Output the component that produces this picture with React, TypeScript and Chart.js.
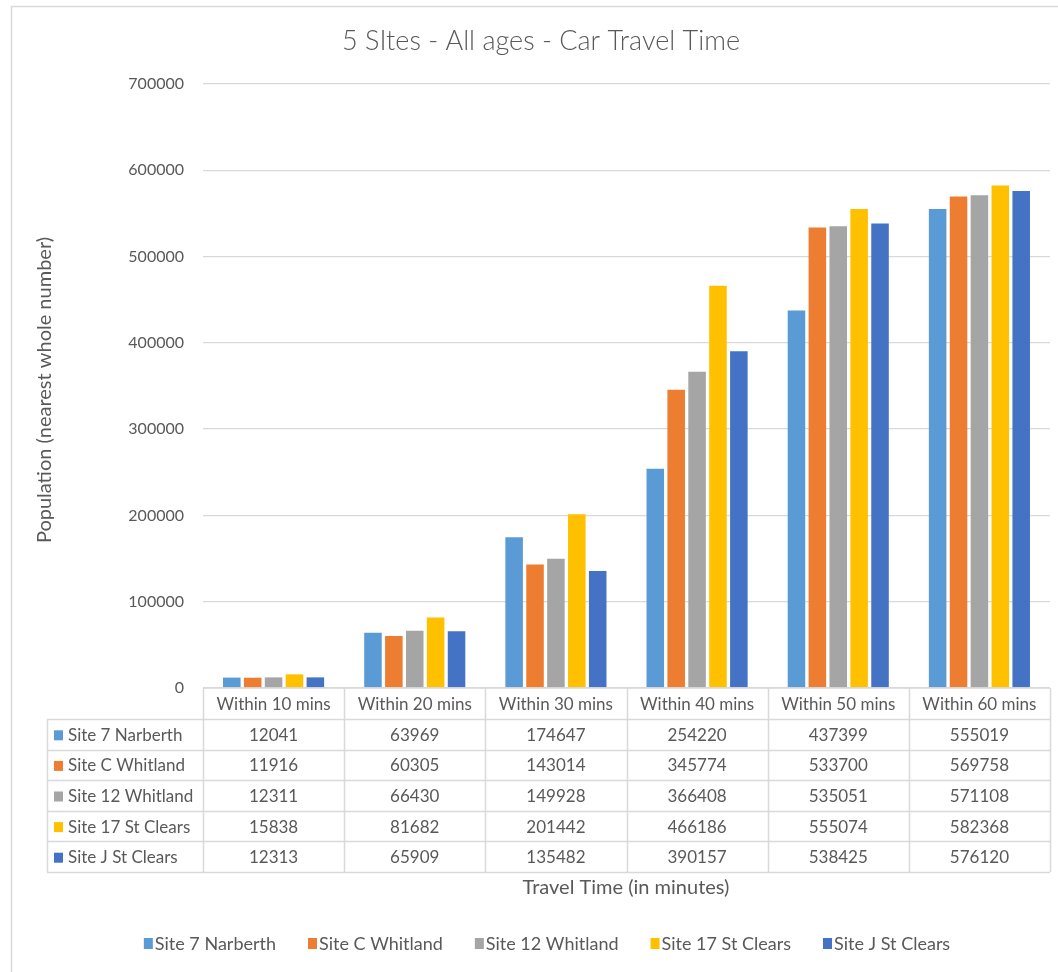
import React, { useEffect, useRef } from "react";
import { Chart, registerables } from "chart.js";

Chart.register(...registerables);

const categories = ["Within 10 mins", "Within 20 mins", "Within 30 mins", "Within 40 mins", "Within 50 mins", "Within 60 mins"];
const seriesNames = ["Site 7 Narberth", "Site C Whitland", "Site 12 Whitland", "Site 17 St Clears", "Site J St Clears"];
const site7Narberth = [12041, 63969, 174647, 254220, 437399, 555019];
const siteCWhitland = [11916, 60305, 143014, 345774, 533700, 569758];
const site12Whitland = [12311, 66430, 149928, 366408, 535051, 571108];
const site17StClears = [15838, 81682, 201442, 466186, 555074, 582368];
const siteJStClears = [12313, 65909, 135482, 390157, 538425, 576120];
const seriesColors = ["#5B9BD5", "#ED7D31", "#A5A5A5", "#FFC000", "#4472C4"];
const yTickMax = 700000;
const yTickStep = 100000;
const titleText = "5 SItes - All ages - Car Travel Time";
const yAxisTitle = "Population (nearest whole number)";
const xAxisTitle = "Travel Time (in minutes)";

const FONT = "Lato, 'Open Sans', sans-serif";
const TEXT = "#595959";
const LINE = "#d9d9d9";

const decorPlugin = {
  id: "excelDecor",
  afterDraw(chart: any) {
    const ctx = chart.ctx as CanvasRenderingContext2D;
    const area = chart.chartArea;
    const xs = chart.scales.x;
    const n = categories.length;
    const colW = (area.right - area.left) / n;
    ctx.save();

    // outer border
    ctx.strokeStyle = LINE;
    ctx.lineWidth = 1.5;
    ctx.beginPath();
    ctx.moveTo(11.5, chart.height + 5);
    ctx.lineTo(11.5, 6.5);
    ctx.lineTo(chart.width + 5, 6.5);
    ctx.stroke();

    // title
    ctx.fillStyle = TEXT;
    ctx.font = `300 27px ${FONT}`;
    ctx.textAlign = "center";
    ctx.textBaseline = "middle";
    ctx.fillText(titleText, 541, 41);

    // y axis title
    ctx.save();
    ctx.translate(45, 390);
    ctx.rotate(-Math.PI / 2);
    ctx.font = `20px ${FONT}`;
    ctx.fillText(yAxisTitle, 0, 0);
    ctx.restore();

    // data table
    const tableLeft = 47;
    const headerTop = area.bottom;
    const headerBottom = headerTop + 31;
    const rowH = 30.6;
    const rows = chart.data.datasets.length;
    const tableBottom = headerBottom + rowH * rows;
    ctx.strokeStyle = LINE;
    ctx.lineWidth = 1.5;
    ctx.beginPath();
    ctx.moveTo(area.left, headerTop);
    ctx.lineTo(area.right, headerTop);
    for (let r = 0; r <= rows; r++) {
      const y = Math.round(headerBottom + rowH * r) + 0.5;
      ctx.moveTo(tableLeft, y);
      ctx.lineTo(area.right, y);
    }
    ctx.moveTo(tableLeft + 0.5, headerBottom);
    ctx.lineTo(tableLeft + 0.5, tableBottom);
    for (let i = 0; i <= n; i++) {
      const x = Math.round(xs.getPixelForValue(Math.min(i, n - 1)) + (i === n ? colW / 2 : -colW / 2)) + 0.5;
      ctx.moveTo(x, headerTop);
      ctx.lineTo(x, tableBottom);
    }
    ctx.stroke();

    ctx.fillStyle = TEXT;
    ctx.font = `17px ${FONT}`;
    ctx.textAlign = "center";
    ctx.textBaseline = "middle";
    for (let i = 0; i < n; i++) {
      const cx = xs.getPixelForValue(i);
      ctx.fillText(String(chart.data.labels[i]), cx, (headerTop + headerBottom) / 2 + 1);
    }
    chart.data.datasets.forEach((ds: any, r: number) => {
      const cy = headerBottom + rowH * r + rowH / 2 + 1;
      ctx.fillStyle = ds.backgroundColor;
      ctx.fillRect(54, cy - 5, 9, 10);
      ctx.fillStyle = TEXT;
      ctx.textAlign = "left";
      ctx.fillText(ds.label, 68, cy);
      ctx.textAlign = "center";
      ds.data.forEach((v: number, i: number) => {
        ctx.fillText(String(v), xs.getPixelForValue(i), cy);
      });
    });

    // x axis title
    ctx.font = `20px ${FONT}`;
    ctx.fillText(xAxisTitle, 626, 888);

    // legend
    ctx.font = `18px ${FONT}`;
    const box = 9;
    const boxGap = 2;
    const itemGap = 32;
    const widths = chart.data.datasets.map((ds: any) => box + boxGap + ctx.measureText(ds.label).width);
    const total = widths.reduce((a: number, b: number) => a + b, 0) + itemGap * (widths.length - 1);
    let lx = 547 - total / 2;
    const ly = 943;
    ctx.textAlign = "left";
    chart.data.datasets.forEach((ds: any, k: number) => {
      ctx.fillStyle = ds.backgroundColor;
      ctx.fillRect(lx, ly - 5, box, 11);
      ctx.fillStyle = TEXT;
      ctx.fillText(ds.label, lx + box + boxGap, ly + 1);
      lx += widths[k] + itemGap;
    });

    ctx.restore();
  },
};

export default function App() {
  const ref = useRef<HTMLCanvasElement | null>(null);
  useEffect(() => {
    if (!ref.current) return;
    const seriesValues = [site7Narberth, siteCWhitland, site12Whitland, site17StClears, siteJStClears];
    const chart = new Chart(ref.current, {
      type: "bar",
      data: {
        labels: categories,
        datasets: seriesNames.map((name, k) => ({
          label: name,
          data: seriesValues[k],
          backgroundColor: seriesColors[k],
          borderWidth: 0,
          categoryPercentage: 0.74,
          barPercentage: 0.84,
        })),
      },
      options: {
        responsive: false,
        animation: false,
        layout: { padding: { left: 0, right: 8, top: 84, bottom: 284 } },
        plugins: {
          legend: { display: false },
          title: { display: false },
          tooltip: { enabled: false },
        },
        scales: {
          x: {
            display: false,
          },
          y: {
            min: 0,
            max: yTickMax,
            border: { display: false },
            grid: { color: LINE, lineWidth: 1.3, drawTicks: false },
            ticks: {
              stepSize: yTickStep,
              padding: 19,
              color: TEXT,
              font: { family: FONT, size: 16 },
              callback: (v: any) => String(v),
            },
            afterFit: (scale: any) => {
              scale.width = 203;
            },
          },
        },
      },
      plugins: [decorPlugin],
    });
    return () => chart.destroy();
  }, []);
  return (
    <div style={{ position: "fixed", left: 0, top: 0, width: 1058, height: 972, background: "#fff" }}>
      <canvas ref={ref} width={1058} height={972} style={{ display: "block" }} />
    </div>
  );
}
